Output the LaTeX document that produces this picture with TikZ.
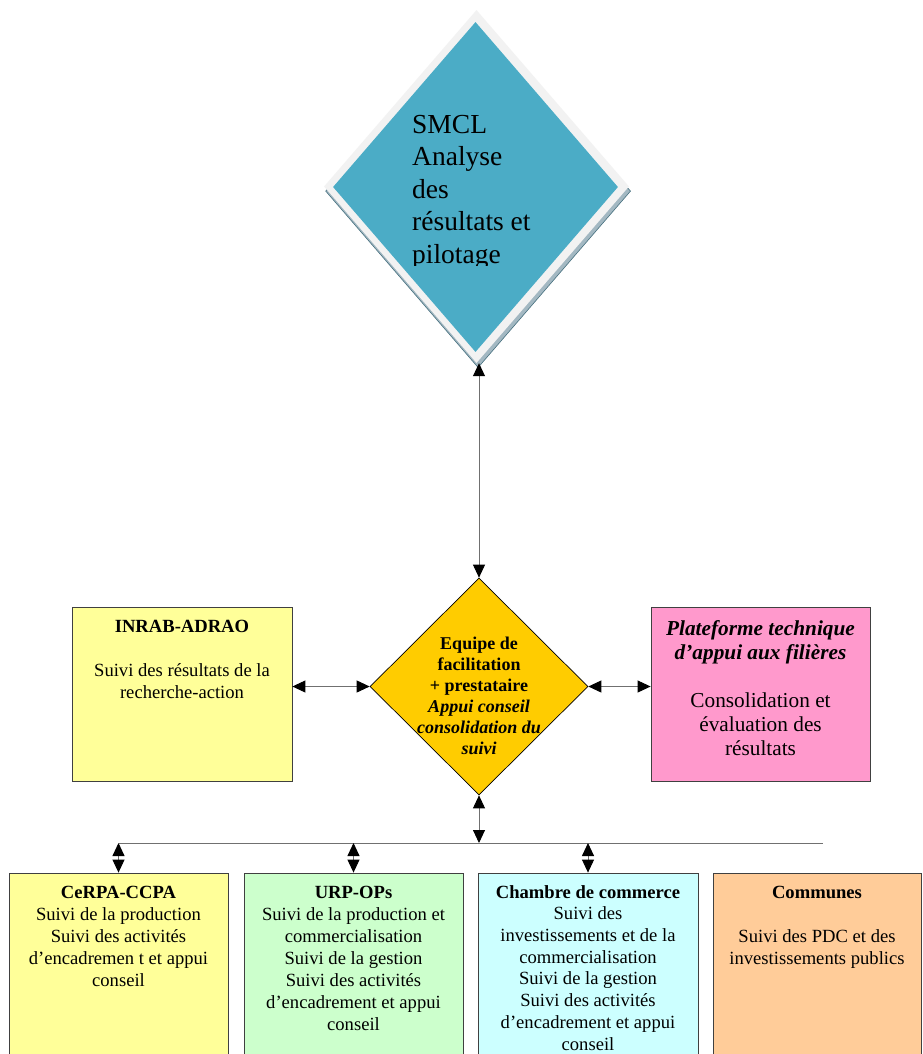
\documentclass[tikz,border=0pt]{standalone}
\usepackage{fontspec}
\setmainfont{Liberation Serif}
\usetikzlibrary{arrows.meta,shapes.geometric}

\definecolor{smclteal}{HTML}{4BACC6}
\definecolor{smclrim}{HTML}{F2F2F2}
\definecolor{smclshadow}{HTML}{A3B8C2}
\definecolor{smclshadowline}{HTML}{46707F}
\definecolor{facgold}{HTML}{FFCC00}
\definecolor{paleyellow}{HTML}{FFFF99}
\definecolor{palepink}{HTML}{FF99CC}
\definecolor{palegreen}{HTML}{CCFFCC}
\definecolor{palecyan}{HTML}{CCFFFF}
\definecolor{paleorange}{HTML}{FFCC99}
\definecolor{linkgray}{HTML}{707070}
\definecolor{boxedge}{HTML}{404040}

\tikzset{
  actorbox/.style={draw=boxedge, line width=0.8pt, rectangle, inner sep=0pt},
  bodytext/.style={align=center, inner sep=0pt, anchor=north,
    font=\fontsize{18.6}{22}\selectfont},
  link/.style={draw=linkgray, line width=0.9pt,
    {Triangle[length=13pt,width=12pt,color=black]}-{Triangle[length=13pt,width=12pt,color=black]}},
  busline/.style={draw=linkgray, line width=0.9pt},
}

\begin{document}
\begin{tikzpicture}[x=1pt,y=-1pt]
\clip (0,0) rectangle (922,1054);
\fill[white] (0,0) rectangle (922,1054);

% steering diamond (SMCL) with rim and drop shadow
\node[diamond, fill=smclshadow, draw=smclshadowline, line width=0.6pt,
  minimum width=305pt, minimum height=353pt, inner sep=0pt] (smclshade) at (478.1,191.1) {};
\node[diamond, fill=smclrim, minimum width=305pt, minimum height=353pt,
  inner sep=0pt] (smclout) at (476.5,186.5) {};
\node[diamond, fill=smclteal, minimum width=285pt, minimum height=330pt,
  inner sep=0pt] (smcl) at (475.5,187) {};
\begin{scope}
  \clip (330,100) rectangle (620,265.5);
  \node[anchor=north west, align=left, inner sep=0pt,
    font=\fontsize{27.5}{32.5}\selectfont] (smcltext) at (412,114.8)
    {SMCL\\Analyse\\des\\résultats et\\pilotage};
\end{scope}

% facilitation diamond
\node[diamond, fill=facgold, draw=black, line width=0.7pt,
  minimum width=218pt, minimum height=217pt, inner sep=0pt] (equipe) at (479,686.5) {};
\node[align=center, inner sep=0pt, anchor=north,
  font=\bfseries\fontsize{18}{21}\selectfont] (equipetext) at (479,636.5)
  {Equipe de\\facilitation\\+ prestataire\\\textit{Appui conseil}\\\textit{consolidation du}\\\textit{suivi}};

% side partners
\node[actorbox, fill=paleyellow, minimum width=220pt, minimum height=174pt] (inrab) at (182,694) {};
\node[bodytext] (inrabtext) at (182,620.4)
  {\textbf{INRAB-ADRAO}\\[22pt]Suivi des résultats de la\\recherche-action};

\node[actorbox, fill=palepink, minimum width=219pt, minimum height=174pt] (plat) at (760.5,694) {};
\node[bodytext, font=\fontsize{21.3}{24}\selectfont] (plattext) at (760.5,620)
  {\textbf{\textit{Plateforme technique}}\\\textbf{\textit{d’appui aux filières}}\\[24pt]Consolidation et\\évaluation des\\résultats};

% field actors
\node[actorbox, fill=paleyellow, minimum width=219pt, minimum height=207pt] (cerpa) at (118.5,976.5) {};
\node[bodytext] (cerpatext) at (118.5,885.7)
  {\textbf{CeRPA-CCPA}\\Suivi de la production\\Suivi des activités\\d’encadremen t et appui\\conseil};

\node[actorbox, fill=palegreen, minimum width=219pt, minimum height=207pt] (urp) at (353.5,976.5) {};
\node[bodytext] (urptext) at (353.5,885.7)
  {\textbf{URP-OPs}\\Suivi de la production et\\commercialisation\\Suivi de la gestion\\Suivi des activités\\d’encadrement et appui\\conseil};

\node[actorbox, fill=palecyan, minimum width=220pt, minimum height=207pt] (chambre) at (588,976.5) {};
\node[bodytext, font=\fontsize{18.6}{21.7}\selectfont] (chambretext) at (588,885.0)
  {\textbf{Chambre de commerce}\\Suivi des\\investissements et de la\\commercialisation\\Suivi de la gestion\\Suivi des activités\\d’encadrement et appui\\conseil};

\node[actorbox, fill=paleorange, minimum width=208pt, minimum height=207pt] (communes) at (817,976.5) {};
\node[bodytext] (communestext) at (817,885.7)
  {\textbf{Communes}\\[22pt]Suivi des PDC et des\\investissements publics};

% distribution bus
\coordinate (busL) at (118.5,843);
\coordinate (busR) at (823,843);
\draw[busline] (busL) -- (busR);

% connectors
\draw[link] (equipe.north |- smclout.south) -- (equipe.north);
\draw[link] (equipe.west -| inrab.east) -- (equipe.west);
\draw[link] (equipe.east) -- (equipe.east -| plat.west);
\draw[link] (equipe.south) -- (equipe.south |- busL);
\draw[link] (cerpa.north |- busL) -- (cerpa.north);
\draw[link] (urp.north |- busL) -- (urp.north);
\draw[link] (chambre.north |- busL) -- (chambre.north);
\end{tikzpicture}
\end{document}
